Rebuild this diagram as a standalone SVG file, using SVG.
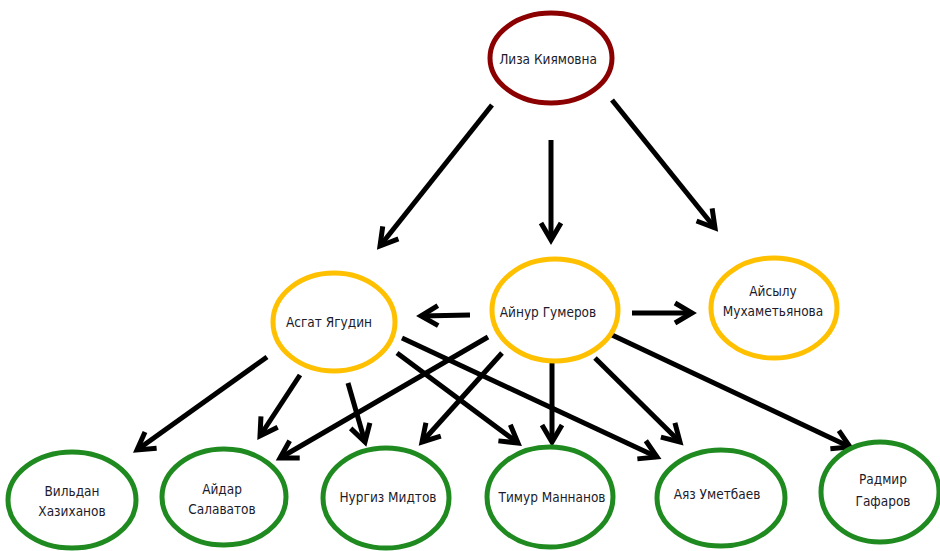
<svg xmlns="http://www.w3.org/2000/svg" width="940" height="551" viewBox="0 0 940 551">
<style>
.n ellipse{fill:#fff;stroke-width:5}
.r ellipse{stroke:#8B0000}
.y ellipse{stroke:#FFC000}
.g ellipse{stroke:#1F8A1F}
text{font-family:"Liberation Sans Narrow","DejaVu Sans Condensed","Liberation Sans",sans-serif;font-size:13.5px;fill:#1b1b2b;text-anchor:middle;dominant-baseline:middle}
#edges line{stroke:#000;stroke-width:5;marker-end:url(#ah)}
</style>
<defs>
<marker id="ah" markerUnits="userSpaceOnUse" markerWidth="40" markerHeight="40" viewBox="-30 -20 40 40" refX="0" refY="0" orient="auto" overflow="visible">
<path d="M-17,-10 L0,0 L-17,10" fill="none" stroke="#000" stroke-width="5"/>
</marker>
</defs>
<rect width="940" height="551" fill="#fff"/>
<g id="edges">
<line x1="492" y1="105" x2="380" y2="246"/>
<line x1="551" y1="140" x2="551" y2="240"/>
<line x1="612" y1="100" x2="715" y2="228"/>
<line x1="470" y1="315" x2="421" y2="316"/>
<line x1="632" y1="313" x2="692" y2="313"/>
<line x1="267" y1="357" x2="137" y2="450"/>
<line x1="300" y1="375" x2="260" y2="436"/>
<line x1="348" y1="383" x2="365" y2="442"/>
<line x1="397" y1="353" x2="518" y2="443"/>
<line x1="402" y1="338" x2="657" y2="457"/>
<line x1="488" y1="337" x2="280" y2="458"/>
<line x1="502" y1="353" x2="422" y2="442"/>
<line x1="552" y1="363" x2="552" y2="442"/>
<line x1="595" y1="358" x2="680" y2="442"/>
<line x1="612" y1="335" x2="850" y2="447"/>
</g>
<g id="liza" class="n r"><ellipse cx="551" cy="58" rx="61" ry="45"/><text x="548" y="60">Лиза Киямовна</text></g>
<g id="asgat" class="n y"><ellipse cx="334" cy="322" rx="61" ry="49"/><text x="329" y="323">Асгат Ягудин</text></g>
<g id="aynur" class="n y"><ellipse cx="555" cy="310" rx="63" ry="51"/><text x="548" y="313">Айнур Гумеров</text></g>
<g id="aysylu" class="n y"><ellipse cx="774" cy="308" rx="63" ry="50"/><text x="773" y="292">Айсылу</text><text x="773" y="312">Мухаметьянова</text></g>
<g id="vildan" class="n g"><ellipse cx="72" cy="500" rx="64" ry="48"/><text x="72" y="492">Вильдан</text><text x="72" y="512">Хазиханов</text></g>
<g id="aydar" class="n g"><ellipse cx="224" cy="497" rx="62" ry="48"/><text x="222" y="490">Айдар</text><text x="222" y="510">Салаватов</text></g>
<g id="nurgiz" class="n g"><ellipse cx="386" cy="498" rx="63" ry="50"/><text x="388" y="498">Нургиз Мидтов</text></g>
<g id="timur" class="n g"><ellipse cx="550" cy="497" rx="63" ry="50"/><text x="552" y="498">Тимур Маннанов</text></g>
<g id="ayaz" class="n g"><ellipse cx="721" cy="498" rx="64" ry="48"/><text x="717" y="495">Аяз Уметбаев</text></g>
<g id="radmir" class="n g"><ellipse cx="880" cy="492" rx="59" ry="50"/><text x="883" y="480">Радмир</text><text x="883" y="502">Гафаров</text></g>
</svg>
